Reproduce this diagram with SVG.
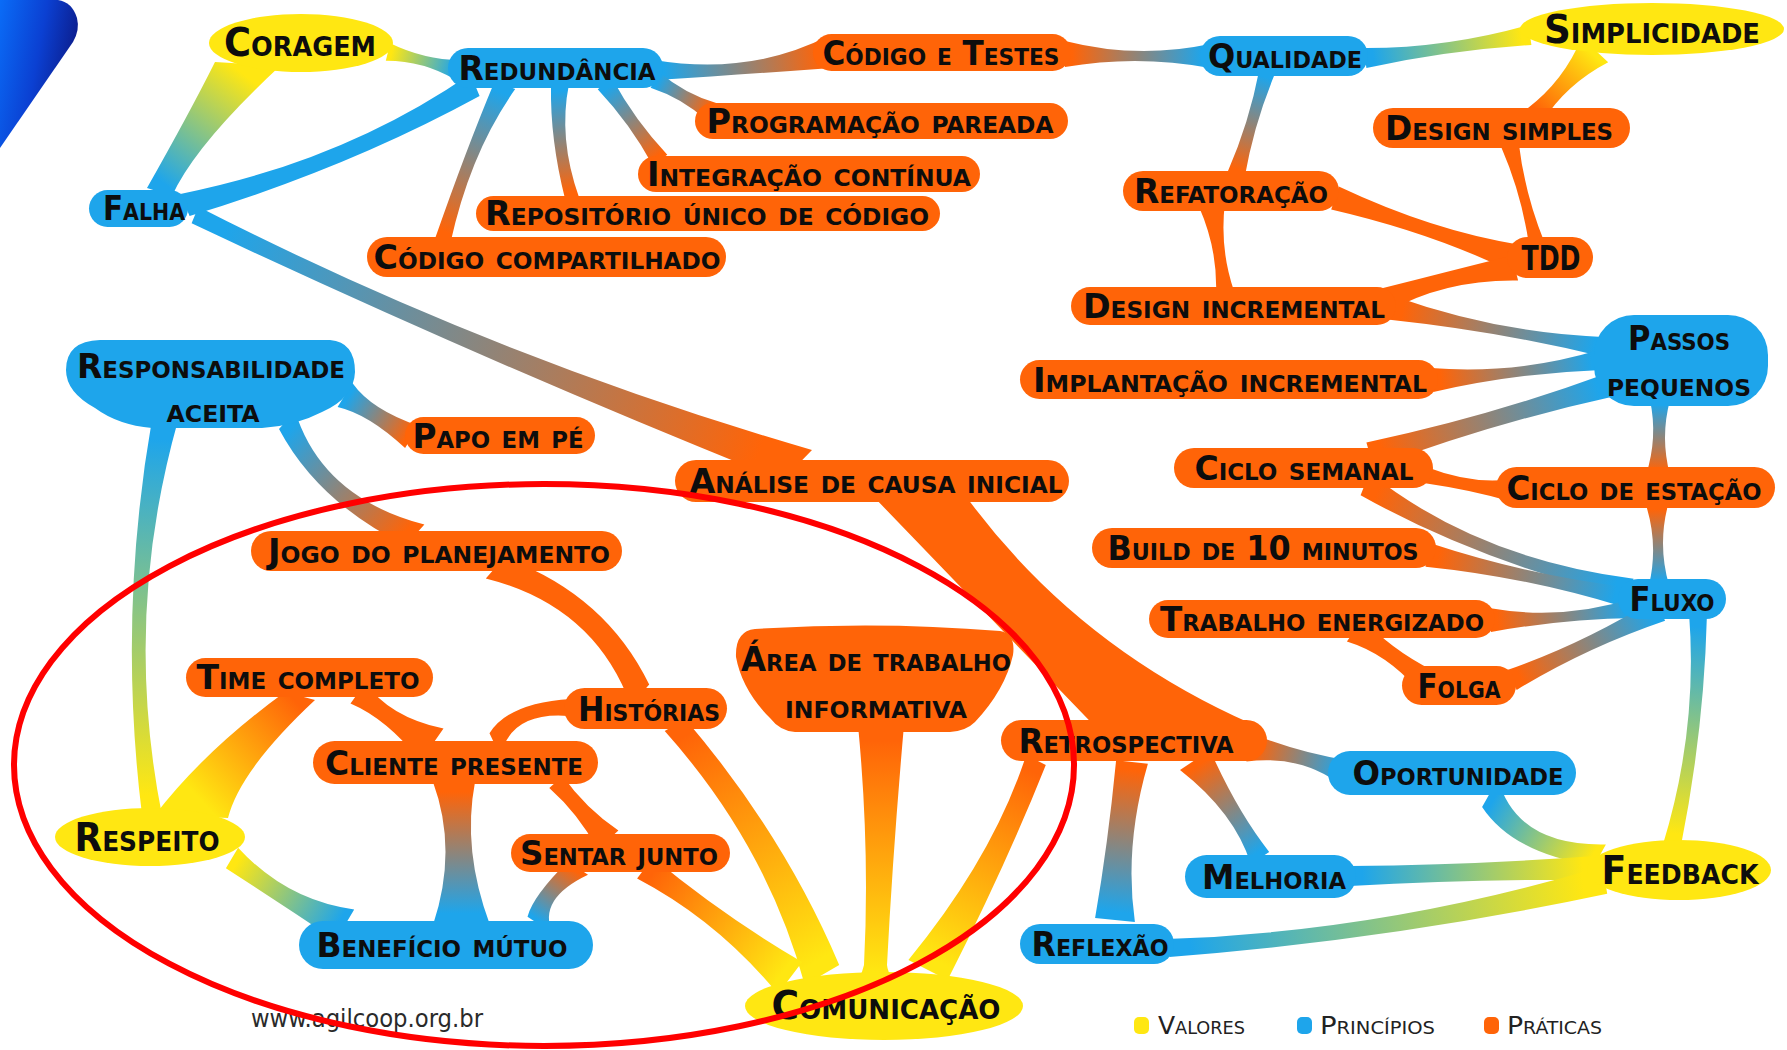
<svg xmlns="http://www.w3.org/2000/svg" xmlns:xlink="http://www.w3.org/1999/xlink" width="1787" height="1050" viewBox="0 0 1787 1050">
<style>
.sy{stop-color:#FFE712}.sb{stop-color:#1EA5EB}.so{stop-color:#FF6408}
.val ellipse{fill:#FFE712}
.pri rect,.pri path{fill:#1EA5EB}
.pra rect,.pra path{fill:#FF6408}
.cb{fill:#1EA5EB}.co{fill:#FF6408}
text.l{font-family:"DejaVu Sans Condensed","DejaVu Sans","Liberation Sans",sans-serif;font-stretch:condensed;font-weight:bold;font-variant:small-caps;font-size:33px;fill:#0d0d0d;text-anchor:middle}
.val text.l{font-size:39px}
text.lg{font-family:"DejaVu Sans Condensed","DejaVu Sans","Liberation Sans",sans-serif;font-stretch:condensed;font-variant:small-caps;font-size:24px;fill:#222}
text.wm{font-family:"DejaVu Sans Condensed","DejaVu Sans","Liberation Sans",sans-serif;font-stretch:condensed;font-size:25px;fill:#2a2a2a}
</style>
<defs>
<linearGradient id="corner" x1="0" y1="0" x2="1" y2="0.35"><stop offset="0" stop-color="#0a6cf7"/><stop offset="0.55" stop-color="#0b40d2"/><stop offset="1" stop-color="#0c1c8a"/></linearGradient>
<linearGradient id="yb" gradientUnits="userSpaceOnUse"><stop class="sy" offset="0.05"/><stop class="sb" offset="0.95"/></linearGradient>
<linearGradient id="by" gradientUnits="userSpaceOnUse"><stop class="sb" offset="0.05"/><stop class="sy" offset="0.95"/></linearGradient>
<linearGradient id="bo" gradientUnits="userSpaceOnUse"><stop class="sb" offset="0.05"/><stop class="so" offset="0.95"/></linearGradient>
<linearGradient id="ob" gradientUnits="userSpaceOnUse"><stop class="so" offset="0.05"/><stop class="sb" offset="0.95"/></linearGradient>
<linearGradient id="oy" gradientUnits="userSpaceOnUse"><stop class="so" offset="0.05"/><stop class="sy" offset="0.95"/></linearGradient>
<linearGradient id="yo" gradientUnits="userSpaceOnUse"><stop class="sy" offset="0.05"/><stop class="so" offset="0.95"/></linearGradient>
<linearGradient id="g1" xlink:href="#yb" x1="250" y1="70" x2="160" y2="190"/>
<linearGradient id="g2" xlink:href="#yb" x1="388" y1="52" x2="458" y2="70"/>
<linearGradient id="g4" xlink:href="#bo" x1="195" y1="215" x2="790" y2="462"/>
<linearGradient id="g5" xlink:href="#bo" x1="655" y1="70" x2="830" y2="52"/>
<linearGradient id="g6" xlink:href="#bo" x1="655" y1="80" x2="712" y2="112"/>
<linearGradient id="g7" xlink:href="#bo" x1="605" y1="84" x2="660" y2="160"/>
<linearGradient id="g8" xlink:href="#bo" x1="560" y1="85" x2="572" y2="198"/>
<linearGradient id="g9" xlink:href="#bo" x1="505" y1="85" x2="443" y2="240"/>
<linearGradient id="g10" xlink:href="#ob" x1="1065" y1="54" x2="1210" y2="56"/>
<linearGradient id="g11" xlink:href="#by" x1="1365" y1="58" x2="1530" y2="35"/>
<linearGradient id="g12" xlink:href="#bo" x1="1267" y1="72" x2="1236" y2="175"/>
<linearGradient id="g13" xlink:href="#yo" x1="1595" y1="50" x2="1535" y2="115"/>
<linearGradient id="g18" xlink:href="#ob" x1="1392" y1="308" x2="1605" y2="347"/>
<linearGradient id="g19" xlink:href="#ob" x1="1432" y1="380" x2="1600" y2="360"/>
<linearGradient id="g20" xlink:href="#ob" x1="1370" y1="455" x2="1610" y2="385"/>
<linearGradient id="g21" xlink:href="#bo" x1="1660" y1="400" x2="1658" y2="475"/>
<linearGradient id="g22" xlink:href="#ob" x1="1657" y1="505" x2="1659" y2="585"/>
<linearGradient id="g24" xlink:href="#ob" x1="1365" y1="484" x2="1630" y2="588"/>
<linearGradient id="g25" xlink:href="#ob" x1="1428" y1="555" x2="1625" y2="597"/>
<linearGradient id="g26" xlink:href="#ob" x1="1490" y1="620" x2="1635" y2="608"/>
<linearGradient id="g28" xlink:href="#ob" x1="1512" y1="680" x2="1660" y2="610"/>
<linearGradient id="g29" xlink:href="#by" x1="1698" y1="615" x2="1672" y2="845"/>
<linearGradient id="g30" xlink:href="#by" x1="1490" y1="793" x2="1600" y2="855"/>
<linearGradient id="g31" xlink:href="#by" x1="1350" y1="876" x2="1595" y2="868"/>
<linearGradient id="g32" xlink:href="#by" x1="1168" y1="948" x2="1605" y2="880"/>
<linearGradient id="g33" xlink:href="#ob" x1="1250" y1="748" x2="1345" y2="773"/>
<linearGradient id="g34" xlink:href="#ob" x1="1195" y1="760" x2="1260" y2="858"/>
<linearGradient id="g35" xlink:href="#ob" x1="1132" y1="762" x2="1115" y2="920"/>
<linearGradient id="g36" xlink:href="#oy" x1="1036" y1="760" x2="928" y2="970"/>
<linearGradient id="g38" xlink:href="#bo" x1="345" y1="395" x2="412" y2="437"/>
<linearGradient id="g39" xlink:href="#bo" x1="287" y1="420" x2="415" y2="535"/>
<linearGradient id="g40" xlink:href="#by" x1="165" y1="420" x2="152" y2="815"/>
<linearGradient id="g42" xlink:href="#oy" x1="675" y1="725" x2="822" y2="975"/>
<linearGradient id="g45" xlink:href="#oy" x1="300" y1="695" x2="190" y2="800"/>
<linearGradient id="g46" xlink:href="#ob" x1="455" y1="785" x2="455" y2="920"/>
<linearGradient id="g48" xlink:href="#ob" x1="578" y1="868" x2="540" y2="925"/>
<linearGradient id="g49" xlink:href="#oy" x1="645" y1="868" x2="790" y2="978"/>
<linearGradient id="g50" xlink:href="#yb" x1="232" y1="858" x2="345" y2="925"/>
<linearGradient id="g51" xlink:href="#oy" x1="880" y1="728" x2="880" y2="985"/>
</defs>
<rect width="1787" height="1050" fill="#fff"/>
<path d="M0,0 H58 Q72,2 77,18 Q80,30 73,42 L0,148 Z" fill="url(#corner)"/>
<g id="connectors">
<path fill="url(#g1)" d="M215,62 Q190,112 147,188 L172,196 Q195,145 280,66 Z"/>
<path fill="url(#g2)" d="M385.8,60.7 Q422.9,60.5 455.5,79.7 L460.5,60.3 Q423.1,59.5 390.2,43.3 Z"/>
<path class="cb" d="M189.6,216.1 Q346.5,168.7 479.6,96.1 L470.4,73.9 Q343.5,161.3 180.4,193.9 Z"/>
<path fill="url(#g4)" d="M191.6,223.3 Q488.7,363.2 782.3,480.5 L812,450 Q491.3,356.8 198.4,206.7 Z"/>
<path fill="url(#g5)" d="M656,80 Q749.4,74 831.6,67.9 L828.4,36.1 Q749.6,76 654,60 Z"/>
<path fill="url(#g6)" d="M650.6,87.8 Q682.3,98.2 707.1,120.7 L716.9,103.3 Q684.7,93.8 659.4,72.2 Z"/>
<path fill="url(#g7)" d="M597.7,89.3 Q630.1,123.8 652.7,165.3 L667.3,154.7 Q634.9,120.2 612.3,78.7 Z"/>
<path fill="url(#g8)" d="M551,86 Q550,138.9 565,198.7 L579,197.3 Q558,138.1 569,84 Z"/>
<path fill="url(#g9)" d="M494.8,80.9 Q465.7,150.6 435.6,237 L450.4,243 Q470.3,152.4 515.2,89.1 Z"/>
<path fill="url(#g10)" d="M1065,67 Q1137.5,54.5 1210,68 L1210,44 Q1137.5,59.5 1065,41 Z"/>
<path fill="url(#g11)" d="M1366.4,67.9 Q1446.6,50.5 1531.4,44.9 L1528.6,25.1 Q1446.4,48.5 1363.6,48.1 Z"/>
<path fill="url(#g12)" d="M1259.3,69.7 Q1249.1,122.8 1227.4,172.4 L1244.6,177.6 Q1253.9,124.2 1274.7,74.3 Z"/>
<path fill="url(#g13)" d="M1581.8,37.8 Q1563.5,81.1 1527.7,108.2 L1542.3,121.8 Q1566.5,83.9 1608.2,62.2 Z"/>
<path class="co" d="M1501.3,147.3 Q1522.1,195.4 1529.3,247.1 L1544.7,242.9 Q1524.9,194.6 1518.7,142.7 Z"/>
<path class="co" d="M1331.2,209.4 Q1432.7,232.9 1510.6,271.3 L1519.4,244.7 Q1433.3,231.1 1338.8,186.6 Z"/>
<path class="co" d="M1199.1,206.9 Q1217.5,248.6 1216.1,293.3 L1233.9,290.7 Q1219.5,248.4 1224.9,203.1 Z"/>
<path class="co" d="M1511.9,255.4 Q1443.2,272.6 1382.1,288.3 L1387.9,311.7 Q1444.8,279.4 1518.1,280.6 Z"/>
<path fill="url(#g18)" d="M1389.8,319.8 Q1499.7,331.5 1603.2,356.8 L1606.8,337.2 Q1499.3,333.5 1394.2,296.2 Z"/>
<path fill="url(#g19)" d="M1433.4,391.9 Q1515.9,373 1601.2,369.9 L1598.8,350.1 Q1516.1,375 1430.6,368.1 Z"/>
<path fill="url(#g20)" d="M1373.6,467.5 Q1491,423.4 1613.4,396.5 L1606.6,373.5 Q1489,416.6 1366.4,442.5 Z"/>
<path fill="url(#g21)" d="M1650,400 Q1658,437.5 1646,475 L1670,475 Q1660,437.5 1670,400 Z"/>
<path fill="url(#g22)" d="M1646,505 Q1658.5,545 1649,585 L1669,585 Q1657.5,545 1668,505 Z"/>
<path class="co" d="M1423.6,482.9 Q1472.1,490 1508.1,500.8 L1511.9,479.2 Q1472.9,485 1426.4,467.1 Z"/>
<path fill="url(#g24)" d="M1360.6,495.2 Q1477.6,560.9 1626.4,597.3 L1633.6,578.7 Q1478.4,559.1 1369.4,472.8 Z"/>
<path fill="url(#g25)" d="M1425.5,566.7 Q1526.3,577 1622.9,606.8 L1627.1,587.2 Q1526.7,575 1430.5,543.3 Z"/>
<path fill="url(#g26)" d="M1491,632 Q1562.4,619 1635.8,618 L1634.2,598 Q1562.6,621 1489,608 Z"/>
<path class="co" d="M1346.9,641.4 Q1386.3,653.4 1418,689.8 L1432,670.2 Q1389.7,648.6 1363.1,618.6 Z"/>
<path fill="url(#g28)" d="M1516.7,689.9 Q1587.1,647.3 1665.1,620.8 L1654.9,599.2 Q1584.9,642.7 1507.3,670.1 Z"/>
<path fill="url(#g29)" d="M1689.1,614 Q1698,729.7 1663.1,844 L1680.9,846 Q1704,730.3 1706.9,616 Z"/>
<path fill="url(#g30)" d="M1482.1,806.9 Q1513,853.5 1594.1,865.5 L1605.9,844.5 Q1517,846.5 1497.9,779.1 Z"/>
<path fill="url(#g31)" d="M1350,886 Q1472.5,879 1595,880 L1595,856 Q1472.5,865 1350,866 Z"/>
<path fill="url(#g32)" d="M1169.4,956.9 Q1387.2,940.4 1607.2,893.8 L1602.8,866.2 Q1385.8,931.6 1166.6,939.1 Z"/>
<path fill="url(#g33)" d="M1246.4,761.5 Q1301.9,754.5 1341.7,785.6 L1348.3,760.4 Q1302.1,753.5 1253.6,734.5 Z"/>
<path fill="url(#g34)" d="M1180,770 Q1234.8,812.8 1250.8,864.1 L1269.2,851.9 Q1237.2,811.2 1210,750 Z"/>
<path fill="url(#g35)" d="M1116.1,760.3 Q1108,844.1 1095.1,917.9 L1134.9,922.1 Q1124,845.9 1147.9,763.7 Z"/>
<path fill="url(#g36)" d="M1026.2,755 Q993.3,856.6 908.4,959.9 L947.6,980.1 Q1006.7,863.4 1045.8,765 Z"/>
<path class="co" d="M872,495 L1110,742 L1255,738 L1252,724 Q1075,646 965,495 Z"/>
<path fill="url(#g38)" d="M337.6,406.9 Q368.7,414.1 405.1,448 L418.9,426 Q371.3,409.9 352.4,383.1 Z"/>
<path fill="url(#g39)" d="M279,428.9 Q318,502.2 405.6,545.4 L424.4,524.6 Q322,497.8 295,411.1 Z"/>
<path fill="url(#g40)" d="M152,419.6 Q117.5,616.9 142,814.7 L162,815.3 Q122.5,617.1 178,420.4 Z"/>
<path class="co" d="M485.8,578.5 Q594.7,606 630.8,705.5 L649.2,684.5 Q605.3,594 504.2,557.5 Z"/>
<path fill="url(#g42)" d="M664.7,731.1 Q766.9,845.1 804.8,985.1 L839.2,964.9 Q784.1,834.9 685.3,718.9 Z"/>
<path class="co" d="M570.8,698.9 Q508.9,702.7 489.5,733.2 L500.5,756.8 Q511.1,707.3 579.2,717.1 Z"/>
<path class="co" d="M350.5,703.6 Q387.1,719.2 420.5,761.4 L443.5,728.6 Q388.9,716.8 365.5,682.4 Z"/>
<path fill="url(#g45)" d="M285,692 Q205,750 155,815 L228,818 Q240,770 315,700 Z"/>
<path fill="url(#g46)" d="M433,782 Q458,850 433,925 L490,925 Q462,850 475,782 Z"/>
<path class="co" d="M549.3,788 Q578.6,814 597.6,849.4 L618.4,830.6 Q585.4,808 562.7,776 Z"/>
<path fill="url(#g48)" d="M568,861.3 Q532.9,896.1 527.5,916.7 L552.5,933.3 Q537.1,898.9 588,874.7 Z"/>
<path fill="url(#g49)" d="M637.1,878.4 Q717.9,920.8 777.9,993.9 L802.1,962.1 Q722.1,915.2 652.9,857.6 Z"/>
<path fill="url(#g50)" d="M225.9,868.3 Q283.5,905.6 335.8,940.5 L354.2,909.5 Q286.5,900.4 238.1,847.7 Z"/>
<path fill="url(#g51)" d="M858,725 Q870,850 864,965 Q862,978 845,992 L907,992 Q888,978 887,965 Q893,850 904,725 Z"/>
</g>
<g id="n-coragem" class="val"><ellipse cx="301" cy="43" rx="92" ry="29"/><text class="l" x="300" y="56" textLength="152" lengthAdjust="spacingAndGlyphs">Coragem</text></g>
<g id="n-simplicidade" class="val"><ellipse cx="1652" cy="29" rx="132" ry="26"/><text class="l" x="1652" y="43" textLength="216" lengthAdjust="spacingAndGlyphs">Simplicidade</text></g>
<g id="n-respeito" class="val"><ellipse cx="150" cy="837" rx="95" ry="29"/><text class="l" x="147" y="851" textLength="145" lengthAdjust="spacingAndGlyphs">Respeito</text></g>
<g id="n-feedback" class="val"><ellipse cx="1679" cy="870" rx="92" ry="30"/><text class="l" x="1680" y="884" textLength="157" lengthAdjust="spacingAndGlyphs">Feedback</text></g>
<g id="n-comunicacao" class="val"><ellipse cx="884" cy="1006" rx="139" ry="34"/><text class="l" x="886" y="1019" textLength="229" lengthAdjust="spacingAndGlyphs">Comunicação</text></g>
<g id="n-redundancia" class="pri"><rect x="448" y="48" width="215" height="40" rx="20"/><text class="l" x="557" y="80" textLength="197" lengthAdjust="spacingAndGlyphs">Redundância</text></g>
<g id="n-falha" class="pri"><rect x="89" y="190" width="99" height="37" rx="18.5"/><text class="l" x="144" y="220" textLength="82" lengthAdjust="spacingAndGlyphs">Falha</text></g>
<g id="n-qualidade" class="pri"><rect x="1200" y="36" width="168" height="40" rx="20"/><text class="l" x="1285" y="68" textLength="154" lengthAdjust="spacingAndGlyphs">Qualidade</text></g>
<g id="n-responsabilidade" class="pri"><path d="M100,340 L330,340 Q355,342 355,372 Q354,398 322,412 Q295,426 262,428 L152,428 Q118,425 95,408 Q66,392 66,370 Q66,341 100,340 Z"/><text class="l" x="211" y="378" textLength="268" lengthAdjust="spacingAndGlyphs">Responsabilidade</text><text class="l" x="213" y="422" textLength="93" lengthAdjust="spacingAndGlyphs">aceita</text></g>
<g id="n-passos" class="pri"><rect x="1594" y="315" width="174" height="91" rx="40"/><text class="l" x="1679" y="350" textLength="102" lengthAdjust="spacingAndGlyphs">Passos</text><text class="l" x="1679" y="396" textLength="144" lengthAdjust="spacingAndGlyphs">pequenos</text></g>
<g id="n-fluxo" class="pri"><rect x="1618" y="579" width="108" height="40" rx="20"/><text class="l" x="1672" y="611" textLength="85" lengthAdjust="spacingAndGlyphs">Fluxo</text></g>
<g id="n-oportunidade" class="pri"><rect x="1328" y="751" width="248" height="44" rx="22"/><text class="l" x="1458" y="785" textLength="211" lengthAdjust="spacingAndGlyphs">Oportunidade</text></g>
<g id="n-melhoria" class="pri"><rect x="1185" y="855" width="171" height="43" rx="21.5"/><text class="l" x="1274" y="889" textLength="144" lengthAdjust="spacingAndGlyphs">Melhoria</text></g>
<g id="n-reflexao" class="pri"><rect x="1020" y="924" width="154" height="40" rx="20"/><text class="l" x="1100" y="956" textLength="137" lengthAdjust="spacingAndGlyphs">Reflexão</text></g>
<g id="n-beneficio" class="pri"><rect x="299" y="921" width="294" height="48" rx="24"/><text class="l" x="442" y="957" textLength="251" lengthAdjust="spacingAndGlyphs">Benefício mútuo</text></g>
<g id="n-codigo-testes" class="pra"><rect x="813" y="34" width="258" height="37" rx="18.5"/><text class="l" x="941" y="65" textLength="237" lengthAdjust="spacingAndGlyphs">Código e Testes</text></g>
<g id="n-programacao" class="pra"><rect x="695" y="103" width="373" height="36" rx="18"/><text class="l" x="880" y="133" textLength="347" lengthAdjust="spacingAndGlyphs">Programação pareada</text></g>
<g id="n-design-simples" class="pra"><rect x="1373" y="108" width="257" height="40" rx="20"/><text class="l" x="1499" y="140" textLength="228" lengthAdjust="spacingAndGlyphs">Design simples</text></g>
<g id="n-integracao" class="pra"><rect x="638" y="156" width="342" height="36" rx="18"/><text class="l" x="809" y="186" textLength="324" lengthAdjust="spacingAndGlyphs">Integração contínua</text></g>
<g id="n-refatoracao" class="pra"><rect x="1123" y="171" width="216" height="40" rx="20"/><text class="l" x="1231" y="203" textLength="194" lengthAdjust="spacingAndGlyphs">Refatoração</text></g>
<g id="n-repositorio" class="pra"><rect x="476" y="196" width="464" height="35" rx="17.5"/><text class="l" x="707" y="225" textLength="444" lengthAdjust="spacingAndGlyphs">Repositório único de código</text></g>
<g id="n-tdd" class="pra"><rect x="1507" y="237" width="86" height="41" rx="20.5"/><text class="l" x="1551" y="270" textLength="59" lengthAdjust="spacingAndGlyphs">TDD</text></g>
<g id="n-codigo-compartilhado" class="pra"><rect x="367" y="237" width="359" height="40" rx="20"/><text class="l" x="547" y="269" textLength="347" lengthAdjust="spacingAndGlyphs">Código compartilhado</text></g>
<g id="n-design-incremental" class="pra"><rect x="1071" y="287" width="325" height="38" rx="19"/><text class="l" x="1234" y="318" textLength="302" lengthAdjust="spacingAndGlyphs">Design incremental</text></g>
<g id="n-implantacao" class="pra"><rect x="1020" y="360" width="418" height="39" rx="19.5"/><text class="l" x="1230" y="392" textLength="394" lengthAdjust="spacingAndGlyphs">Implantação incremental</text></g>
<g id="n-papo" class="pra"><rect x="405" y="417" width="190" height="37" rx="18.5"/><text class="l" x="498" y="448" textLength="171" lengthAdjust="spacingAndGlyphs">Papo em pé</text></g>
<g id="n-ciclo-semanal" class="pra"><rect x="1174" y="448" width="259" height="40" rx="20"/><text class="l" x="1304" y="480" textLength="219" lengthAdjust="spacingAndGlyphs">Ciclo semanal</text></g>
<g id="n-analise" class="pra"><rect x="675" y="460" width="394" height="42" rx="21"/><text class="l" x="876" y="493" textLength="373" lengthAdjust="spacingAndGlyphs">Análise de causa inicial</text></g>
<g id="n-ciclo-estacao" class="pra"><rect x="1496" y="467" width="279" height="41" rx="20.5"/><text class="l" x="1634" y="500" textLength="255" lengthAdjust="spacingAndGlyphs">Ciclo de estação</text></g>
<g id="n-jogo" class="pra"><rect x="251" y="531" width="371" height="40" rx="20"/><text class="l" x="439" y="563" textLength="342" lengthAdjust="spacingAndGlyphs">Jogo do planejamento</text></g>
<g id="n-build" class="pra"><rect x="1092" y="528" width="344" height="40" rx="20"/><text class="l" x="1263" y="560" textLength="311" lengthAdjust="spacingAndGlyphs">Build de 10 minutos</text></g>
<g id="n-trabalho" class="pra"><rect x="1149" y="600" width="346" height="38" rx="19"/><text class="l" x="1322" y="631" textLength="324" lengthAdjust="spacingAndGlyphs">Trabalho energizado</text></g>
<g id="n-area" class="pra"><path d="M755,629 Q880,621 1000,631 Q1016,634 1013,655 Q1005,690 975,722 Q966,731 950,732 L795,732 Q780,731 770,718 Q742,690 736,657 Q735,631 755,629 Z"/><text class="l" x="876" y="671" textLength="270" lengthAdjust="spacingAndGlyphs">Área de trabalho</text><text class="l" x="876" y="718" textLength="182" lengthAdjust="spacingAndGlyphs">informativa</text></g>
<g id="n-time" class="pra"><rect x="186" y="658" width="247" height="39" rx="19.5"/><text class="l" x="308" y="689" textLength="223" lengthAdjust="spacingAndGlyphs">Time completo</text></g>
<g id="n-folga" class="pra"><rect x="1402" y="666" width="114" height="39" rx="19.5"/><text class="l" x="1459" y="698" textLength="83" lengthAdjust="spacingAndGlyphs">Folga</text></g>
<g id="n-historias" class="pra"><rect x="564" y="688" width="163" height="41" rx="20.5"/><text class="l" x="649" y="721" textLength="142" lengthAdjust="spacingAndGlyphs">Histórias</text></g>
<g id="n-retrospectiva" class="pra"><rect x="1001" y="720" width="266" height="41" rx="20.5"/><text class="l" x="1126" y="753" textLength="215" lengthAdjust="spacingAndGlyphs">Retrospectiva</text></g>
<g id="n-cliente" class="pra"><rect x="313" y="741" width="285" height="43" rx="21.5"/><text class="l" x="454" y="775" textLength="258" lengthAdjust="spacingAndGlyphs">Cliente presente</text></g>
<g id="n-sentar" class="pra"><rect x="511" y="834" width="219" height="38" rx="19"/><text class="l" x="619" y="865" textLength="198" lengthAdjust="spacingAndGlyphs">Sentar junto</text></g>
<text class="wm" x="251" y="1027" textLength="232" lengthAdjust="spacingAndGlyphs">www.agilcoop.org.br</text>
<g id="legend">
<rect x="1134" y="1017" width="15" height="17" rx="5" fill="#FFE712"/><text class="lg" x="1158" y="1034" textLength="87" lengthAdjust="spacingAndGlyphs">Valores</text>
<rect x="1297" y="1017" width="15" height="17" rx="5" fill="#1EA5EB"/><text class="lg" x="1320" y="1034" textLength="115" lengthAdjust="spacingAndGlyphs">Princípios</text>
<rect x="1484" y="1017" width="15" height="17" rx="5" fill="#FF6408"/><text class="lg" x="1507" y="1034" textLength="95" lengthAdjust="spacingAndGlyphs">Práticas</text>
</g>
<ellipse id="highlight" cx="544" cy="765" rx="530" ry="281" fill="none" stroke="#FF0000" stroke-width="6"/>
</svg>
